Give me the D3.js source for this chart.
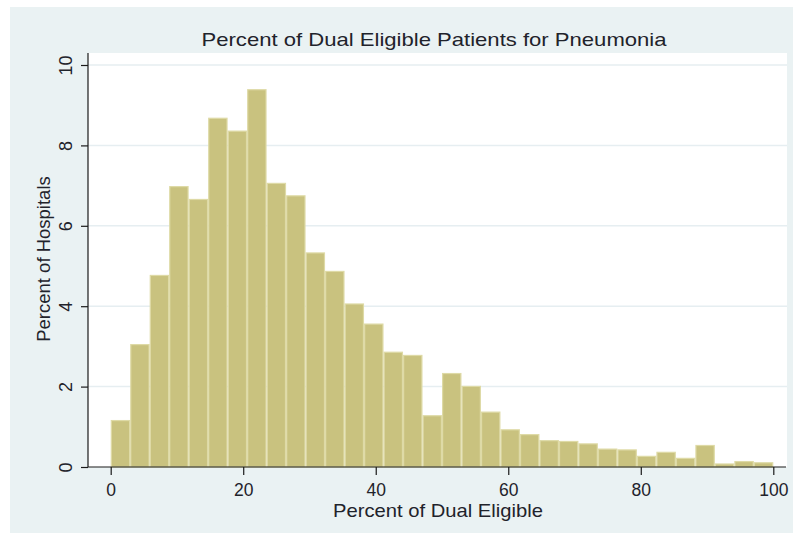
<!DOCTYPE html>
<html>
<head>
<meta charset="utf-8">
<script src="https://cdn.jsdelivr.net/npm/d3@7"></script>
<style>
  html, body { margin: 0; padding: 0; background: #ffffff; }
  svg { display: block; }
  text { font-family: "Liberation Sans", Arial, sans-serif; fill: #1f232b; }
</style>
</head>
<body>
<svg id="chart" width="793" height="533"></svg>
<script>
// ---- data ----
const title = "Percent of Dual Eligible Patients for Pneumonia";
const xTitle = "Percent of Dual Eligible";
const yTitle = "Percent of Hospitals";
const binCount = 34;
const xMin = 0, xMax = 100;
const percents = [
  1.17, 3.06, 4.78, 6.99, 6.67, 8.69, 8.37, 9.40, 7.07, 6.76,
  5.34, 4.88, 4.07, 3.57, 2.87, 2.79, 1.29, 2.34, 2.02, 1.38,
  0.94, 0.82, 0.67, 0.65, 0.59, 0.46, 0.44, 0.28, 0.38, 0.23,
  0.55, 0.09, 0.15, 0.12
];
const xTicks = [0, 20, 40, 60, 80, 100];
const yTicks = [0, 2, 4, 6, 8, 10];

// ---- layout ----
const svg = d3.select("#chart");
const W = 793, H = 533;
const plot = { left: 88, right: 787, top: 53, bottom: 467 };

svg.append("rect").attr("x", 10).attr("y", 7).attr("width", W - 10).attr("height", H - 7)
  .attr("fill", "#eaf2f3");
svg.append("rect").attr("x", plot.left).attr("y", plot.top)
  .attr("width", plot.right - plot.left).attr("height", plot.bottom - plot.top)
  .attr("fill", "#ffffff");

const x = d3.scaleLinear().domain([xMin, xMax]).range([110.7, 773.3]);
const y = d3.scaleLinear().domain([0, 10]).range([467, 65]);

// gridlines
svg.append("g").selectAll("line").data(yTicks.filter(d => d > 0)).join("line")
  .attr("x1", plot.left).attr("x2", plot.right)
  .attr("y1", d => y(d)).attr("y2", d => y(d))
  .attr("stroke", "#e6eef1").attr("stroke-width", 1.5);

// bars
const bw = (xMax - xMin) / binCount;
const bins = percents.map((v, i) => ({ x0: xMin + i * bw, x1: xMin + (i + 1) * bw, v }));
svg.append("g").selectAll("rect").data(bins).join("rect")
  .attr("x", d => x(d.x0) + 0.6)
  .attr("width", d => x(d.x1) - x(d.x0) - 1.2)
  .attr("y", d => y(d.v) + 0.6)
  .attr("height", d => Math.max(0, y(0) - y(d.v) - 0.6))
  .attr("fill", "#c9c27f")
  .attr("stroke", "#dedaa6").attr("stroke-width", 1.2);

// axes
const yAxis = svg.append("g").attr("transform", `translate(${plot.left},0)`)
  .call(d3.axisLeft(y).tickValues(yTicks).tickSize(7).tickPadding(0).tickFormat(d3.format("d")));
yAxis.select(".domain").attr("d", `M0,${plot.bottom}V${plot.top}`).attr("stroke", "#1a1a1a").attr("stroke-width", 1.2);
yAxis.selectAll(".tick line").attr("stroke", "#1a1a1a").attr("stroke-width", 1.2);
yAxis.selectAll(".tick text")
  .attr("x", null).attr("dy", null)
  .attr("transform", "translate(-16,0) rotate(-90)")
  .attr("text-anchor", "middle")
  .attr("font-size", 18)
  .style("font-family", "Liberation Sans, Arial, sans-serif")
  .attr("fill", "#1f232b");

const xAxis = svg.append("g").attr("transform", `translate(0,${plot.bottom})`)
  .call(d3.axisBottom(x).tickValues(xTicks).tickSize(8).tickPadding(0).tickFormat(d3.format("d")));
xAxis.select(".domain").attr("d", `M${plot.left},0H${plot.right - 1}`).attr("stroke", "#1a1a1a").attr("stroke-width", 1.2);
xAxis.selectAll(".tick line").attr("stroke", "#1a1a1a").attr("stroke-width", 1.2);
xAxis.selectAll(".tick text")
  .attr("y", 28.5).attr("dy", null)
  .attr("font-size", 17.5)
  .style("font-family", "Liberation Sans, Arial, sans-serif")
  .attr("fill", "#1f232b");

// titles
svg.append("text").attr("x", 434).attr("y", 46).attr("text-anchor", "middle")
  .attr("font-size", 18.5).attr("textLength", 465).attr("lengthAdjust", "spacingAndGlyphs")
  .text(title);
svg.append("text").attr("x", 438).attr("y", 516.5).attr("text-anchor", "middle")
  .attr("font-size", 18.5).attr("textLength", 210).attr("lengthAdjust", "spacingAndGlyphs")
  .text(xTitle);
svg.append("text").attr("transform", "translate(50,259) rotate(-90)").attr("text-anchor", "middle")
  .attr("font-size", 18.5)
  .text(yTitle);
</script>
</body>
</html>
